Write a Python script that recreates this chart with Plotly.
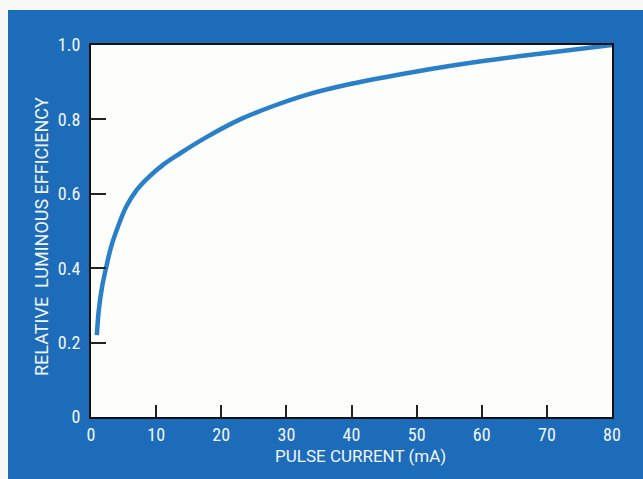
import plotly.graph_objects as go

# Relative luminous efficiency vs. pulse current
pulse_current_ma = [0.9, 1.2, 1.7, 2.35, 3.1, 4.15, 5.4, 7.0, 8.75, 11.3, 13.7,
                    17.8, 22.9, 28.0, 33.1, 39.8, 50.0, 60.2, 70.5, 80.0]
relative_efficiency = [0.22, 0.288, 0.35, 0.404, 0.458, 0.512, 0.565, 0.61, 0.643,
                       0.681, 0.709, 0.753, 0.800, 0.836, 0.866, 0.895, 0.929,
                       0.957, 0.980, 1.0]

x_ticks = [0, 10, 20, 30, 40, 50, 60, 70, 80]
y_ticks = [0, 0.2, 0.4, 0.6, 0.8, 1.0]
y_tick_text = ["0", "0.2", "0.4", "0.6", "0.8", "1.0"]

PANEL_BLUE = "#1d6cb9"
CURVE_BLUE = "#2a80c8"
TEXT = "#f2f6fb"
TICK_FONT = "Liberation Sans Narrow, Roboto Condensed, Arial Narrow, DejaVu Sans Condensed, sans-serif"
TITLE_FONT = "Roboto, Liberation Sans, sans-serif"

fig = go.Figure()
fig.add_trace(go.Scatter(
    x=pulse_current_ma, y=relative_efficiency,
    mode="lines", line=dict(color=CURVE_BLUE, width=4.5, shape="spline", smoothing=1.0),
    hoverinfo="skip", showlegend=False,
))

axis_common = dict(
    showgrid=False, zeroline=False,
    showline=True, linecolor="#111111", linewidth=2, mirror=True,
    ticks="inside", tickcolor="#222222", tickwidth=1.5,
    tickfont=dict(family=TICK_FONT, size=18, color=TEXT),
)

fig.update_xaxes(range=[0, 80], tickvals=x_ticks, ticklen=12, **axis_common)
fig.update_yaxes(
    range=[0, 1.0], tickvals=y_ticks, ticktext=y_tick_text, ticklen=15,
    ticklabelstandoff=5,
    **axis_common,
)

# Axis captions as annotations
fig.add_annotation(
    text="PULSE CURRENT (mA)",
    xref="paper", yref="paper", x=0.5, y=0, xanchor="center", yanchor="middle",
    xshift=9, yshift=-39, showarrow=False,
    font=dict(family=TITLE_FONT, size=17, color=TEXT),
)
fig.add_annotation(
    text="RELATIVE  LUMINOUS EFFICIENCY", textangle=-90,
    xref="paper", yref="paper", x=0, y=0.5, xanchor="center", yanchor="middle",
    xshift=-50, yshift=-6, showarrow=False,
    font=dict(family=TITLE_FONT, size=18, color=TEXT),
)

# Light page strips around the blue panel (top and left edges)
fig.add_shape(type="rect", xref="paper", yref="paper", layer="below",
              xsizemode="pixel", ysizemode="pixel", xanchor=0, yanchor=1,
              x0=-95, x1=560, y0=35, y1=50, fillcolor="#f8f8f6", line_width=0)
fig.add_shape(type="rect", xref="paper", yref="paper", layer="below",
              xsizemode="pixel", ysizemode="pixel", xanchor=0, yanchor=1,
              x0=-95, x1=-83, y0=-450, y1=50, fillcolor="#f8f8f6", line_width=0)

fig.update_layout(
    width=643, height=479,
    margin=dict(l=91, r=31, t=45, b=62),
    paper_bgcolor=PANEL_BLUE, plot_bgcolor="#fdfdfb",
)

fig.write_html("out.html")
